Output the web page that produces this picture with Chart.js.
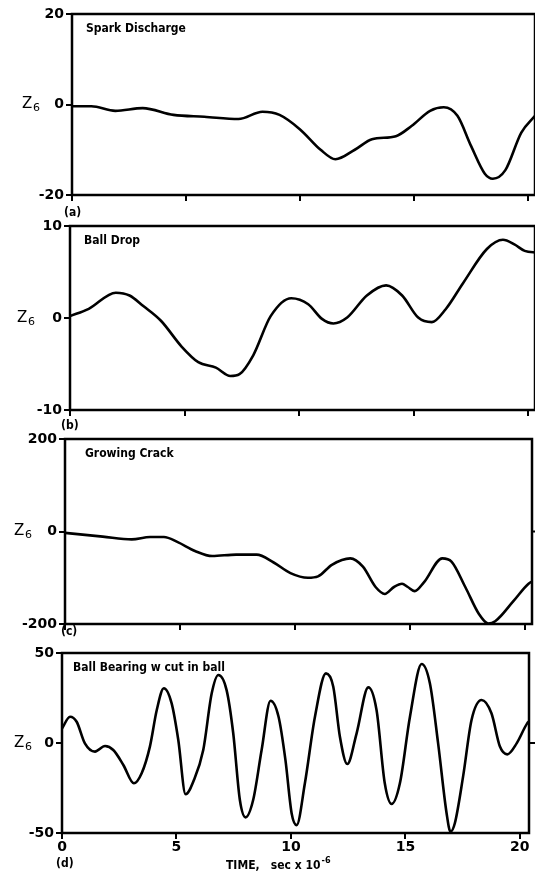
<!DOCTYPE html>
<html>
<head>
<meta charset="utf-8">
<script src="https://cdn.jsdelivr.net/npm/chart.js@4.4.0/dist/chart.umd.min.js"></script>
<style>
body{margin:0;background:#fff;width:535px;height:873px;position:relative;overflow:hidden}
canvas{position:absolute;left:0;top:0}
</style>
</head>
<body>
<canvas id="ca" width="535" height="873"></canvas>
<canvas id="cb" width="535" height="873"></canvas>
<canvas id="cc" width="535" height="873"></canvas>
<canvas id="cd" width="535" height="873"></canvas>
<script>
// time axis, sec x 10^-6
const timeMax = 20.3;
const timeMaxD = 20.4;

// (a) Spark Discharge
const timeA = [0, 0.85, 1.9, 3.1, 4.45, 5.8, 7.3, 8.35, 9.1, 10.0, 10.9, 11.55, 12.4, 13.15, 14.2, 14.9, 15.7, 16.3, 16.9, 17.5, 18.1, 18.45, 19.0, 19.7, 20.3];
const zA    = [-0.4, -0.4, -1.4, -0.8, -2.3, -2.7, -3.2, -1.6, -2.3, -5.5, -10.0, -12.1, -10.0, -7.7, -7.0, -4.7, -1.4, -0.6, -2.5, -9.2, -15.3, -16.4, -14.5, -6.2, -2.5];

// (b) Ball Drop
const timeB = [0, 0.82, 2.0, 2.6, 3.2, 3.97, 4.87, 5.6, 6.37, 7.0, 7.4, 8.0, 8.76, 9.66, 10.4, 11.0, 11.5, 12.1, 12.96, 13.8, 14.5, 15.2, 15.8, 16.4, 17.15, 18.2, 18.9, 19.4, 19.85, 20.4];
const zB    = [0.2, 1.0, 2.75, 2.45, 1.3, -0.3, -3.1, -4.8, -5.4, -6.3, -6.1, -4.05, 0.2, 2.15, 1.5, -0.1, -0.6, 0.05, 2.45, 3.55, 2.45, 0.05, -0.45, 0.95, 3.75, 7.5, 8.5, 8.0, 7.3, 7.1];

// (c) Growing Crack
const timeC = [0, 1.64, 2.9, 3.7, 4.3, 4.9, 5.65, 6.4, 7.44, 8.33, 9.07, 9.8, 10.56, 11.0, 11.6, 12.4, 12.95, 13.5, 13.9, 14.3, 14.65, 14.9, 15.2, 15.6, 16.4, 16.8, 17.4, 18.0, 18.4, 18.7, 19.5, 20.15, 20.4];
const zC    = [-3, -11, -17, -12, -12, -23, -42, -53, -50, -50, -67, -90, -100, -97, -72, -58, -76, -120, -135, -120, -113, -120, -129, -110, -58, -65, -120, -179, -199, -194, -150, -113, -106];

// (d) Ball Bearing w cut in ball
const timeD = [0, 0.35, 0.64, 1.0, 1.44, 1.88, 2.24, 2.68, 3.14, 3.48, 3.84, 4.14, 4.45, 4.79, 5.08, 5.4, 5.75, 6.17, 6.54, 6.83, 7.19, 7.48, 7.77, 8.02, 8.35, 8.72, 9.11, 9.46, 9.76, 10.03, 10.25, 10.61, 11.05, 11.53, 11.85, 12.14, 12.46, 12.87, 13.38, 13.74, 14.1, 14.4, 14.76, 15.2, 15.71, 16.07, 16.43, 16.8, 16.97, 17.16, 17.52, 17.89, 18.33, 18.76, 19.13, 19.45, 19.86, 20.32, 20.4];
const zD    = [8, 14.6, 11.8, -0.2, -4.8, -1.7, -3.9, -12.2, -22.4, -16.8, -2, 18.3, 30.4, 22, 1.7, -28.5, -21, -3.9, 27.6, 37.8, 29.4, 5.4, -31.7, -41.3, -31.7, -3.9, 23.5, 14.6, -9.4, -39, -45.6, -22.4, 14.6, 38.7, 31.3, 3.5, -11.7, 5.4, 30.9, 18.3, -22.4, -33.9, -22.4, 14.6, 43.9, 33.2, -0.2, -39, -49.3, -44.6, -18.7, 12.8, 23.9, 16.5, -2, -6.3, -0.2, 10.9, 12];

const condensed = "'DejaVu Sans Condensed', 'Liberation Sans Narrow', sans-serif";
Chart.defaults.color = '#000';
Chart.defaults.font.family = "'DejaVu Sans', sans-serif";

const frame = {
  id: 'frame',
  afterDraw(chart, args, o) {
    const ctx = chart.ctx;
    const a = chart.chartArea;
    const y0 = chart.scales.y.getPixelForValue(0);
    ctx.save();
    ctx.strokeStyle = '#000';
    ctx.lineWidth = 2.5;
    ctx.strokeRect(a.left, a.top, a.right - a.left, a.bottom - a.top);
    if (o.rightTick) {
      ctx.lineWidth = 2;
      ctx.beginPath();
      ctx.moveTo(a.right, y0);
      ctx.lineTo(a.right + 6, y0);
      ctx.stroke();
    }
    ctx.fillStyle = '#000';
    ctx.textBaseline = 'middle';
    ctx.font = 'bold 12px ' + condensed;
    ctx.fillText(o.name, a.left + o.nameDx, a.top + 15);
    ctx.font = 'bold 12px ' + condensed;
    ctx.fillText(o.tag, o.tagX, o.tagY);
    ctx.font = "15px 'DejaVu Sans', sans-serif";
    ctx.fillText('Z', o.zX, y0);
    ctx.font = "11px 'DejaVu Sans', sans-serif";
    ctx.fillText('6', o.zX + 11, y0 + 4);
    if (o.xTitle) {
      ctx.font = 'bold 12px ' + condensed;
      ctx.fillText(o.xTitle, 226, 866);
      const w = ctx.measureText(o.xTitle).width;
      ctx.font = 'bold 9px ' + condensed;
      ctx.fillText('-6', 226 + w + 1, 861);
    }
    ctx.restore();
  }
};

function panel(id, time, z, yMin, yMax, xMax, box, deco, last) {
  const pts = time.map((t, i) => ({x: t, y: z[i]}));
  const axisH = last ? 37 : 20;
  new Chart(document.getElementById(id), {
    type: 'line',
    data: {datasets: [{
      data: pts,
      borderColor: '#000',
      borderWidth: 2.6,
      pointRadius: 0,
      fill: false,
      cubicInterpolationMode: 'monotone'
    }]},
    options: {
      responsive: false,
      animation: false,
      events: [],
      layout: {padding: {top: box.top, bottom: 873 - box.bottom - axisH, left: 0, right: 535 - box.right}},
      plugins: {legend: {display: false}, tooltip: {enabled: false}, frame: deco},
      scales: {
        x: {
          type: 'linear', min: 0, max: xMax,
          afterFit: s => { s.height = axisH; },
          border: {display: false},
          grid: {drawOnChartArea: false, tickLength: 6, lineWidth: 2, color: '#000'},
          ticks: {stepSize: 5, includeBounds: false, display: !!last, padding: 0,
                  font: {size: 14, weight: 'bold'}, maxRotation: 0}
        },
        y: {
          min: yMin, max: yMax,
          afterFit: s => { s.width = box.left; },
          border: {display: false},
          grid: {drawOnChartArea: false, tickLength: 6, lineWidth: 2, color: '#000'},
          ticks: {stepSize: yMax, includeBounds: false, padding: 2, font: {size: 14, weight: 'bold'}}
        }
      }
    },
    plugins: [frame]
  });
}

panel('ca', timeA, zA, -20, 20, timeMax, {left: 72, right: 535, top: 14, bottom: 195},
  {name: 'Spark Discharge', nameDx: 14, tag: '(a)', tagX: 64, tagY: 213, zX: 22});
panel('cb', timeB, zB, -10, 10, timeMax, {left: 70, right: 535, top: 226, bottom: 410},
  {name: 'Ball Drop', nameDx: 14, tag: '(b)', tagX: 61, tagY: 426, zX: 17});
panel('cc', timeC, zC, -200, 200, timeMax, {left: 65, right: 532, top: 439, bottom: 624},
  {name: 'Growing Crack', nameDx: 20, tag: '(c)', tagX: 61, tagY: 632, zX: 14, rightTick: true});
panel('cd', timeD, zD, -50, 50, timeMaxD, {left: 62, right: 529, top: 653, bottom: 833},
  {name: 'Ball Bearing w cut in ball', nameDx: 11, tag: '(d)', tagX: 56, tagY: 864, zX: 14,
   rightTick: true, xTitle: 'TIME,   sec x 10'}, true);
</script>
</body>
</html>
